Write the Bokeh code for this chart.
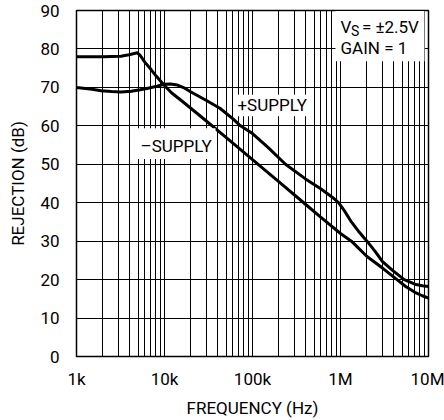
from bokeh.plotting import figure
from bokeh.models import FixedTicker, Label, BoxAnnotation
from bokeh.embed import file_html
from bokeh.resources import INLINE

FONT = "Roboto"
FS = "17px"

# +SUPPLY curve (starts near 70 dB)
plus_freq = [1e3, 1.5e3, 1.9e3, 2.5e3, 3.2e3, 4.2e3, 5.3e3, 6.5e3, 8.2e3, 10e3, 11.7e3,
             14e3, 17e3, 20e3, 30e3, 43e3, 60e3, 73e3, 100e3, 150e3, 237e3, 400e3,
             590e3, 800e3, 950e3, 1.1e6, 1.33e6, 1.6e6, 2e6, 2.5e6, 3e6, 4e6, 5.3e6,
             7e6, 8.5e6, 10e6]
plus_db = [70.0, 69.5, 69.1, 68.9, 68.8, 69.0, 69.4, 69.8, 70.3, 70.8, 70.9,
           70.6, 69.8, 68.8, 66.6, 64.5, 61.8, 60.0, 58.0, 54.4, 50.0, 46.2,
           43.7, 41.5, 40.0, 38.0, 35.0, 32.6, 30.0, 27.2, 24.7, 22.2, 20.0,
           18.8, 18.4, 18.2]

# -SUPPLY curve (starts near 78 dB)
minus_freq = [1e3, 2e3, 3.2e3, 3.8e3, 4.3e3, 4.9e3, 5.3e3, 6e3, 7e3, 8e3, 9.8e3,
              12e3, 15.9e3, 25.7e3, 50e3, 100e3, 200e3, 400e3, 600e3, 1e6, 1.33e6,
              2e6, 3e6, 4.5e6, 5.5e6, 7e6, 8.5e6, 10e6]
minus_db = [78.0, 78.0, 78.1, 78.4, 78.7, 79.0, 78.3, 76.5, 74.7, 73.0, 70.7,
            68.6, 66.4, 62.5, 57.0, 51.2, 45.4, 39.6, 36.2, 32.0, 30.0,
            26.0, 23.0, 19.8, 18.2, 16.7, 15.8, 15.2]

x_ticks = [1e3, 1e4, 1e5, 1e6, 1e7]
x_tick_labels = ["1k", "10k", "100k", "1M", "10M"]
x_minor = [m * 10 ** e for e in range(3, 7) for m in range(2, 10)]
y_ticks = [0, 10, 20, 30, 40, 50, 60, 70, 80, 90]

p = figure(width=444, height=420, x_axis_type="log", x_range=(1e3, 1e7), y_range=(0, 90),
           output_backend="svg", toolbar_location=None,
           min_border_left=76, min_border_right=16, min_border_top=10, min_border_bottom=57)
p.background_fill_color = "white"
p.border_fill_color = "white"
p.outline_line_color = "black"
p.outline_line_width = 1.5

p.xaxis.ticker = FixedTicker(ticks=x_ticks, minor_ticks=x_minor)
p.xaxis.major_label_overrides = {t: l for t, l in zip(x_ticks, x_tick_labels)}
p.yaxis.ticker = FixedTicker(ticks=y_ticks)

for ax in (p.xaxis, p.yaxis):
    ax.axis_line_color = None
    ax.major_tick_line_color = None
    ax.minor_tick_line_color = None
    ax.major_label_text_font = FONT
    ax.major_label_text_font_size = FS
    ax.major_label_text_color = "black"
    ax.axis_label_text_font = FONT
    ax.axis_label_text_font_size = FS
    ax.axis_label_text_font_style = "normal"
    ax.axis_label_text_color = "black"

p.xaxis.axis_label = "FREQUENCY (Hz)"
p.yaxis.axis_label = "REJECTION (dB)"
p.xaxis.major_label_standoff = 6
p.xaxis.axis_label_standoff = 6
p.yaxis.major_label_standoff = 11
p.yaxis.axis_label_standoff = 9

p.xgrid.grid_line_color = "black"
p.xgrid.grid_line_width = 1
p.xgrid.minor_grid_line_color = "black"
p.xgrid.minor_grid_line_width = 1
p.ygrid.grid_line_color = "black"
p.ygrid.grid_line_width = 1

p.line(plus_freq, plus_db, line_width=3, color="black", line_join="round")
p.line(minus_freq, minus_db, line_width=3, color="black", line_join="round")

# white label boxes
p.add_layout(BoxAnnotation(left=877e3, right=9.0e6, bottom=76.8, top=89.85,
                           fill_color="white", fill_alpha=1, line_color=None))
p.add_layout(BoxAnnotation(left=62.4e3, right=456e3, bottom=62.5, top=68.1,
                           fill_color="white", fill_alpha=1, line_color=None))
p.add_layout(BoxAnnotation(left=4.9e3, right=38e3, bottom=51.4, top=59.4,
                           fill_color="white", fill_alpha=1, line_color=None))

def lab(x, y, text, size=FS):
    p.add_layout(Label(x=x, y=y, text=text, text_font=FONT, text_font_size=size,
                       text_color="black", text_align="left", text_baseline="middle"))

lab(67.5e3, 65.5, "+SUPPLY")
lab(5.34e3, 54.8, "–SUPPLY")
lab(1.0e6, 85.6, "V")
lab(1.32e6, 84.6, "S", "14px")
lab(1.75e6, 85.6, "= ±2.5V")
lab(1.0e6, 80.3, "GAIN = 1")

open("out.html", "w").write(file_html(p, INLINE))
